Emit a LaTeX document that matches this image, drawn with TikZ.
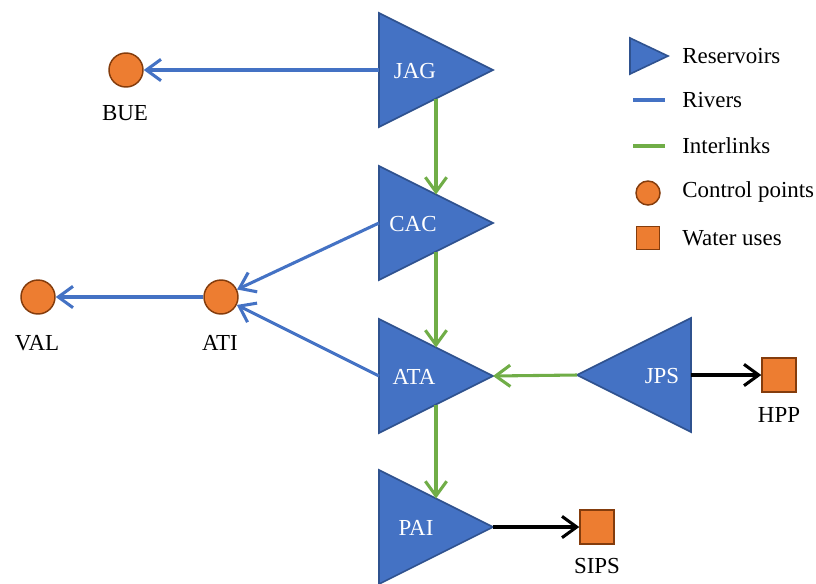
\documentclass[tikz,border=0pt]{standalone}
\usepackage{fontspec}
\setmainfont{Liberation Serif}
\usetikzlibrary{arrows.meta}
\definecolor{resblue}{HTML}{4472C4}
\definecolor{resedge}{HTML}{2F528F}
\definecolor{cporange}{HTML}{ED7D31}
\definecolor{cpedge}{HTML}{843C0C}
\definecolor{linkgreen}{HTML}{70AD47}

\begin{document}
\begin{tikzpicture}[x=0.75pt,y=-0.75pt,
  txt/.style={font=\fontsize{17.2}{20}\selectfont, inner sep=0pt},
  restext/.style={txt, text=white},
  reservoir/.style={fill=resblue, draw=resedge, line width=1.2pt, line join=miter},
  ctrl/.style={circle, fill=cporange, draw=cpedge, line width=1.1pt, minimum size=25.5pt, inner sep=0pt},
  wuse/.style={rectangle, fill=cporange, draw=cpedge, line width=1.1pt, minimum size=25.5pt, inner sep=0pt},
  barb/.style={-{Straight Barb[length=11pt,width=16pt]}},
  river/.style={draw=resblue, line width=2.3pt, barb},
  interlink/.style={draw=linkgreen, line width=2.3pt, barb},
  supply/.style={draw=black, line width=2.3pt, barb}
]
\useasboundingbox (0,0) rectangle (816,583);

% reservoirs
\draw[reservoir] (379,13)  -- (493,70)  -- (379,127) -- cycle;
\draw[reservoir] (379,166) -- (493,223) -- (379,280) -- cycle;
\draw[reservoir] (379,319) -- (493,376) -- (379,433) -- cycle;
\draw[reservoir] (379,470) -- (493,527) -- (379,584) -- cycle;
\draw[reservoir] (691,318) -- (577,375) -- (691,432) -- cycle;

\node[restext] (JAG) at (415,71) {JAG};
\node[restext] (CAC) at (413,224) {CAC};
\node[restext] (ATA) at (414,377) {ATA};
\node[restext] (PAI) at (416,528) {PAI};
\node[restext] (JPS) at (662,376) {JPS};

% points on the reservoir outlines where links attach
\coordinate (jagW) at (379,70);
\coordinate (cacW) at (379,223);
\coordinate (ataW) at (379,376);
\coordinate (ataE) at (493,376);
\coordinate (paiE) at (493,527);
\coordinate (jpsW) at (577,375);
\coordinate (jpsE) at (691,375);
\coordinate (jagB) at (436,98.5);
\coordinate (cacT) at (436,194.5);
\coordinate (cacB) at (436,251.5);
\coordinate (ataT) at (436,347.5);
\coordinate (ataB) at (436,404.5);
\coordinate (paiT) at (436,498.5);

% control points and water uses
\node[ctrl] (BUE) at (126,70) {};
\node[ctrl] (VAL) at (38,297) {};
\node[ctrl] (ATI) at (221,297) {};
\node[wuse] (HPP) at (779,375) {};
\node[wuse] (SIPS) at (597,527) {};

\node[txt] (BUElab) at (125,113) {BUE};
\node[txt] (VALlab) at (37,343) {VAL};
\node[txt] (ATIlab) at (220,343) {ATI};
\node[txt] (HPPlab) at (779,415) {HPP};
\node[txt] (SIPSlab) at (597,566) {SIPS};

% rivers
\draw[river] (jagW) -- (BUE);
\draw[river] (cacW) -- (ATI);
\draw[river] (ataW) -- (ATI);
\draw[river] (ATI) -- (VAL);

% interlinks
\draw[interlink] (jagB) -- (cacT);
\draw[interlink] (cacB) -- (ataT);
\draw[interlink] (ataB) -- (paiT);
\draw[interlink] (jpsW) -- (ataE);

% supplies to water uses
\draw[supply] (jpsE) -- (HPP);
\draw[supply] (paiE) -- (SIPS);

% legend
\draw[reservoir] (630,38) -- (668,56) -- (630,74) -- cycle;
\coordinate (rivA) at (633,100);
\coordinate (rivB) at (665,100);
\coordinate (intA) at (633,146);
\coordinate (intB) at (665,146);
\draw[resblue, line width=2.3pt] (rivA) -- (rivB);
\draw[linkgreen, line width=2.3pt] (intA) -- (intB);
\node[ctrl, minimum size=18pt] (legCP) at (648,193) {};
\node[wuse, minimum size=17pt] (legWU) at (648,238) {};

\node[txt, anchor=west] (legRes) at (682,56) {Reservoirs};
\node[txt, anchor=west] (legRiv) at (682,100) {Rivers};
\node[txt, anchor=west] (legInt) at (682,146) {Interlinks};
\node[txt, anchor=west] (legCtl) at (682,192) {Control points};
\node[txt, anchor=west] (legUse) at (682,238) {Water uses};
\end{tikzpicture}
\end{document}
